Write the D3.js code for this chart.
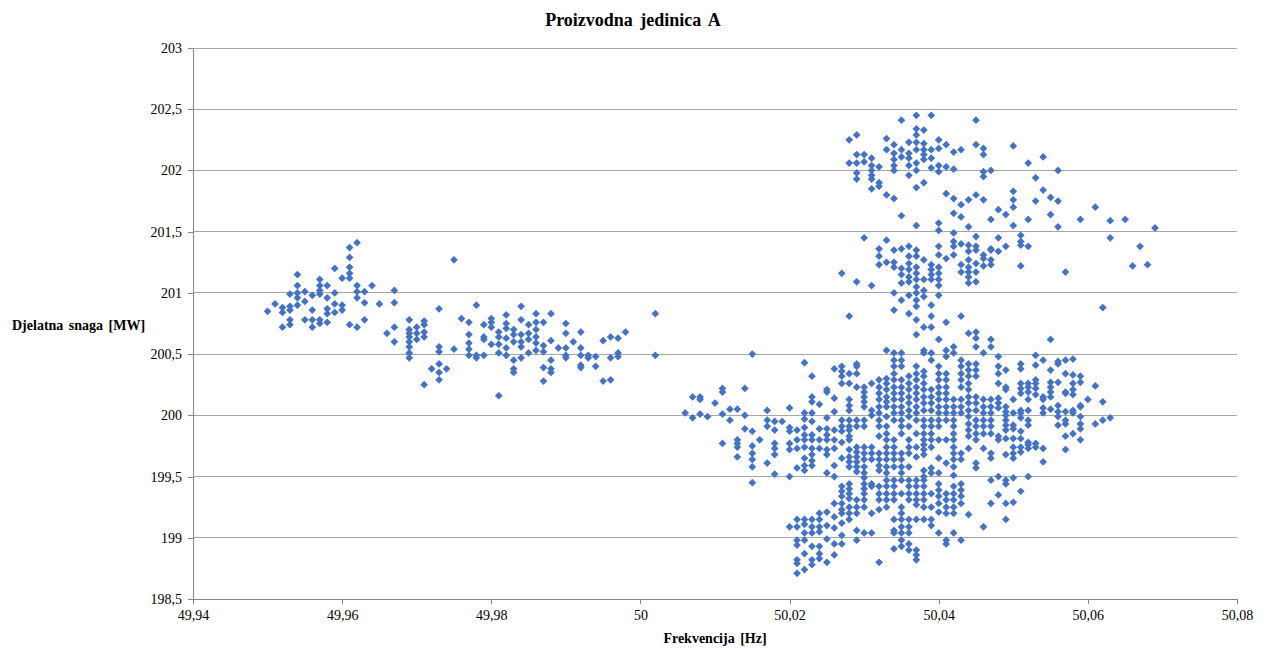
<!DOCTYPE html>
<html><head><meta charset="utf-8">
<script src="https://cdn.jsdelivr.net/npm/d3@7"></script>
<style>body{margin:0;background:#fff}svg{display:block}</style>
</head><body><svg id="c" width="1266" height="648"></svg>
<script>
const chartTitle = "Proizvodna jedinica A";
const xLabel = "Frekvencija [Hz]";
const yLabel = "Djelatna snaga [MW]";
const xTicks = [49.94, 49.96, 49.98, 50.00, 50.02, 50.04, 50.06, 50.08];
const yTicks = [198.5, 199, 199.5, 200, 200.5, 201, 201.5, 202, 202.5, 203];

// each entry: [frequency Hz, [active power MW readings at that frequency]]
const westCluster = [
[49.950,[200.85]],
[49.951,[200.91]],
[49.952,[200.88,200.84,200.72]],
[49.953,[200.99,200.89,200.86,200.78,200.74]],
[49.954,[201.15,201.06,201.00,200.96,200.90]],
[49.955,[201.01,200.93,200.78]],
[49.956,[200.98,200.86,200.78,200.72]],
[49.957,[201.11,201.06,201.02,200.99,200.78,200.75]],
[49.958,[201.06,200.96,200.87,200.83,200.76]],
[49.959,[201.20,201.00,200.91,200.84]],
[49.960,[201.12,200.90,200.86]],
[49.961,[201.37,201.29,201.21,201.16,201.12,200.74]],
[49.962,[201.41,201.06,201.01,200.96,200.72]],
[49.963,[201.01,200.92,200.78]],
[49.964,[201.06]],
[49.965,[200.91]],
[49.966,[200.67]],
[49.967,[201.02,200.92,200.72,200.60]],
[49.969,[200.78,200.70,200.67,200.64,200.60,200.56,200.51,200.47]],
[49.970,[200.72,200.67,200.62]],
[49.971,[200.77,200.74,200.68,200.64,200.25]],
[49.972,[200.38]],
[49.973,[200.87,200.56,200.52,200.42,200.35,200.29]],
[49.974,[200.38]],
[49.975,[201.27,200.54]],
[49.976,[200.79]],
[49.977,[200.76,200.66,200.59,200.54,200.49]],
[49.978,[200.90,200.49,200.47]],
[49.979,[200.74,200.64,200.62,200.49]],
[49.980,[200.79,200.76,200.72,200.58]],
[49.981,[200.68,200.64,200.58,200.51,200.16]],
[49.982,[200.82,200.75,200.71,200.63,200.55,200.49]],
[49.983,[200.70,200.66,200.60,200.45,200.38,200.35]],
[49.984,[200.89,200.78,200.66,200.60,200.56,200.47]],
[49.985,[200.74,200.67,200.62,200.51]],
[49.986,[200.83,200.76,200.70,200.64,200.59,200.53]],
[49.987,[200.76,200.57,200.52,200.39,200.28]],
[49.988,[200.83,200.61,200.45,200.38,200.35]],
[49.989,[200.55]],
[49.990,[200.75,200.67,200.55,200.49,200.47]],
[49.991,[200.60]],
[49.992,[200.68,200.55,200.49,200.41,200.39]],
[49.993,[200.49,200.47]],
[49.994,[200.48,200.40]],
[49.995,[200.61,200.28]],
[49.996,[200.64,200.47,200.29]],
[49.997,[200.63,200.51,200.48]],
[49.998,[200.68]],
[50.002,[200.83,200.49]]
];

const southCluster = [
[50.006,[200.02]],
[50.007,[200.15,199.98]],
[50.008,[200.15,200.13,200.01]],
[50.009,[199.99]],
[50.010,[200.10]],
[50.011,[200.22,200.19,200.01,199.77]],
[50.012,[200.05,199.96]],
[50.013,[200.05,199.80,199.77,199.74,199.66]],
[50.014,[200.22,200.00,199.89]],
[50.015,[200.50,199.87,199.75,199.69,199.64,199.58,199.45]],
[50.016,[199.80]],
[50.017,[200.04,199.96,199.91,199.61]],
[50.018,[199.95,199.88,199.77,199.73,199.68,199.52]],
[50.019,[199.95]],
[50.020,[200.06,199.90,199.87,199.77,199.72,199.50,199.09]],
[50.021,[199.88,199.80,199.73,199.57,199.15,199.09,198.98,198.94,198.82,198.79,198.71]],
[50.022,[200.43,200.02,199.97,199.90,199.84,199.80,199.74,199.65,199.59,199.55,199.15,199.11,199.04,198.98,198.87,198.74]],
[50.023,[200.32,200.15,200.11,200.02,199.95,199.84,199.80,199.73,199.68,199.63,199.59,199.15,199.09,199.04,198.93,198.82,198.78]],
[50.024,[200.09,199.89,199.80,199.73,199.20,199.15,199.09,199.05,198.93,198.87,198.83]],
[50.025,[200.21,200.19,199.98,199.89,199.84,199.80,199.72,199.68,199.53,199.21,199.10,198.99,198.80]],
[50.026,[200.38,200.14,200.03,199.88,199.80,199.73,199.59,199.50,199.28,199.17,199.08,198.95,198.86]],
[50.027,[200.40,200.36,200.32,200.26,199.96,199.91,199.87,199.78,199.65,199.42,199.38,199.34,199.28,199.23,199.20,199.12,199.02,198.95]],
[50.028,[200.34,200.26,200.13,200.08,200.04,199.96,199.91,199.88,199.83,199.80,199.72,199.66,199.62,199.58,199.44,199.40,199.36,199.32,199.25,199.20,199.15]],
[50.029,[200.42,200.40,200.34,200.23,199.96,199.91,199.74,199.70,199.66,199.62,199.58,199.54,199.31,199.25,199.20,199.06,198.98]],
[50.030,[200.23,200.19,200.15,200.11,200.07,199.96,199.91,199.74,199.69,199.64,199.58,199.53,199.49,199.44,199.40,199.36,199.31,199.25,199.04]],
[50.031,[200.26,200.04,200.00,199.74,199.69,199.64,199.44,199.42,199.20,199.04]],
[50.032,[200.29,200.23,200.18,200.13,200.07,200.02,199.96,199.91,199.83,199.69,199.64,199.59,199.55,199.42,199.36,199.31,199.23,198.80]],
[50.033,[200.53,200.30,200.26,200.21,200.15,200.11,200.07,199.99,199.91,199.85,199.80,199.74,199.69,199.64,199.58,199.53,199.47,199.42,199.36,199.31,199.25]],
[50.034,[200.51,200.45,200.40,200.34,200.29,200.23,200.18,200.13,200.07,200.02,199.96,199.80,199.74,199.69,199.64,199.58,199.47,199.42,199.36,199.31,199.15,199.06,199.04,198.91]],
[50.035,[200.51,200.45,200.40,200.29,200.23,200.18,200.13,200.07,200.02,199.96,199.91,199.85,199.69,199.64,199.58,199.53,199.47,199.36,199.25,199.20,199.15,199.09,199.04,198.98,198.93]],
[50.036,[200.32,200.26,200.21,200.15,200.10,200.04,199.99,199.91,199.80,199.74,199.69,199.58,199.47,199.42,199.36,199.31,199.15,199.09,199.04,198.95,198.90]],
[50.037,[200.40,200.34,200.29,200.23,200.18,200.13,200.07,200.02,199.96,199.85,199.74,199.66,199.47,199.42,199.36,199.31,199.27,199.15,198.90,198.86,198.82]],
[50.038,[200.53,200.51,200.36,200.32,200.26,200.21,200.15,200.10,200.04,199.96,199.91,199.85,199.80,199.76,199.72,199.68,199.55,199.50,199.47,199.42,199.36,199.31,199.25,199.15]],
[50.039,[200.51,200.45,200.21,200.15,200.10,200.04,199.96,199.91,199.85,199.80,199.74,199.57,199.53,199.36,199.25,199.15,199.10]],
[50.040,[200.62,200.40,200.34,200.29,200.23,200.18,200.13,200.07,200.02,199.96,199.91,199.80,199.65,199.53,199.44,199.39,199.34,199.28,199.21,199.04]],
[50.041,[200.53,200.48,200.34,200.29,200.23,200.18,200.13,200.07,200.02,199.96,199.80,199.61,199.36,199.31,199.25,199.20,198.98,198.95]],
[50.042,[200.56,200.51,200.13,200.07,200.02,199.96,199.91,199.85,199.80,199.74,199.69,199.64,199.58,199.51,199.42,199.36,199.31,199.25,199.20,199.04]],
[50.043,[200.45,200.40,200.34,200.29,200.23,200.13,200.07,200.02,199.69,199.64,199.44,199.39,199.34,199.28,198.98]],
[50.044,[200.67,200.42,200.37,200.32,200.26,200.21,200.15,200.10,200.04,199.99,199.93,199.88,199.83,199.73,199.19]],
[50.045,[200.68,200.63,200.56,200.42,200.37,200.32,200.15,200.10,200.04,199.96,199.91,199.85,199.80,199.61,199.57]],
[50.046,[200.51,200.13,200.07,200.02,199.96,199.91,199.85,199.73,199.09]],
[50.047,[200.62,200.56,200.13,200.07,200.02,199.96,199.91,199.85,199.69,199.65,199.47,199.28]],
[50.048,[200.48,200.40,200.34,200.26,200.14,200.10,200.06,199.83,199.80,199.50,199.35]],
[50.049,[200.37,200.23,200.21,200.07,200.03,200.00,199.96,199.92,199.88,199.81,199.68,199.47,199.44,199.28,199.15]],
[50.050,[200.13,200.02,199.92,199.89,199.81,199.74,199.69,199.65,199.49,199.29]],
[50.051,[200.42,200.38,200.26,200.22,200.18,200.04,200.02,199.98,199.87,199.81,199.74,199.70,199.38]],
[50.052,[200.26,200.23,200.19,200.13,200.04,199.96,199.92,199.78,199.76,199.73,199.50]],
[50.053,[200.49,200.41,200.29,200.26,200.22,200.17,199.77,199.74]],
[50.054,[200.45,200.15,200.13,200.06,200.02,199.73,199.62]],
[50.055,[200.62,200.37,200.27,200.23,200.19,200.15,200.05]],
[50.056,[200.44,200.42,200.27,200.08,200.03,199.99,199.92]],
[50.057,[200.45,200.34,200.19,200.18,200.03,199.96,199.93,199.83,199.72]],
[50.058,[200.46,200.33,200.26,200.21,200.17,200.04,200.02,199.85]],
[50.059,[200.32,200.27,200.08,200.07,199.99,199.93,199.89,199.80]],
[50.060,[200.13]],
[50.061,[200.24,199.93]],
[50.062,[200.11,199.96]],
[50.063,[199.98]]
];

const northCluster = [
[50.027,[201.16]],
[50.028,[202.25,202.06,200.81]],
[50.029,[202.29,202.13,202.06,201.98,201.93,201.09]],
[50.030,[202.13,202.07,201.45]],
[50.031,[202.10,202.04,202.00,201.96,201.93,201.85,201.06]],
[50.032,[202.03,201.90,201.87,201.36,201.30,201.23]],
[50.033,[202.26,202.17,201.80,201.43,201.25]],
[50.034,[202.21,202.14,202.09,202.04,202.00,201.77,201.35,201.25,201.21,201.00,200.86]],
[50.035,[202.41,202.17,202.11,201.63,201.36,201.20,201.15,201.08,200.94]],
[50.036,[202.23,202.14,202.10,202.04,201.96,201.38,201.30,201.24,201.19,201.13,201.09,200.98,200.83]],
[50.037,[202.45,202.34,202.29,202.23,202.17,202.06,202.00,201.86,201.55,201.35,201.30,201.21,201.16,201.11,201.05,201.00,200.94,200.89,200.78,200.66]],
[50.038,[202.33,202.22,202.17,202.13,202.09,201.90,201.27,201.11,201.02,200.97,200.72]],
[50.039,[202.45,202.17,202.10,202.02,201.23,201.19,201.15,201.11,200.90,200.81,200.72]],
[50.040,[202.25,202.18,202.04,201.99,201.57,201.51,201.38,201.31,201.21,201.16,201.11,201.06,200.98]],
[50.041,[202.21,202.03,201.81,201.28,200.76]],
[50.042,[202.15,202.01,201.77,201.65,201.49,201.42,201.38,201.31]],
[50.043,[202.17,201.72,201.62,201.40,201.23,201.17,200.81]],
[50.044,[201.76,201.54,201.39,201.34,201.27,201.21,201.17,201.13,201.08]],
[50.045,[202.41,202.21,201.80,201.46,201.38,201.35,201.24,201.17,201.09]],
[50.046,[202.18,202.13,201.99,201.95,201.76,201.31,201.28,201.22]],
[50.047,[202.00,201.60,201.36,201.35,201.27,201.23]],
[50.048,[201.68,201.45,201.34]],
[50.049,[201.64,201.38]],
[50.050,[202.20,201.83,201.76,201.70,201.55]],
[50.051,[201.47,201.42,201.39,201.22]],
[50.052,[202.06,201.60,201.38]],
[50.053,[201.94,201.75]],
[50.054,[202.11,201.84]],
[50.055,[201.78,201.64]],
[50.056,[202.00,201.75,201.54]],
[50.057,[201.17]],
[50.059,[201.60]],
[50.061,[201.70]],
[50.062,[200.88]],
[50.063,[201.59,201.45]],
[50.065,[201.60]],
[50.066,[201.22]],
[50.067,[201.38]],
[50.068,[201.23]],
[50.069,[201.53]]
];

const points = [...westCluster, ...southCluster, ...northCluster]
  .flatMap(([f, ps]) => ps.map(p => ({f, p})));

const svg = d3.select("#c");
const m = {left: 193, right: 1237, top: 48, bottom: 599};
const x = d3.scaleLinear().domain([xTicks[0], xTicks[xTicks.length-1]]).range([m.left, m.right]);
const y = d3.scaleLinear().domain([yTicks[0], yTicks[yTicks.length-1]]).range([m.bottom, m.top]);
const fmt = v => String(+v.toFixed(2)).replace(".", ",");
const serif = "'Liberation Serif','Times New Roman',serif";
const gridCol = "#A6A6A6";

// gridlines
svg.append("g").selectAll("line").data(yTicks).join("line")
  .attr("x1", m.left).attr("x2", m.right)
  .attr("y1", d => y(d)).attr("y2", d => y(d))
  .attr("stroke", gridCol).attr("stroke-width", 1).attr("shape-rendering", "crispEdges");

// axes
const gx = svg.append("g").attr("transform", `translate(0,${m.bottom})`)
  .call(d3.axisBottom(x).tickValues(xTicks).tickFormat(fmt).tickSize(5).tickSizeOuter(0).tickPadding(6));
const gy = svg.append("g").attr("transform", `translate(${m.left},0)`)
  .call(d3.axisLeft(y).tickValues(yTicks).tickFormat(fmt).tickSize(5).tickSizeOuter(0).tickPadding(6));
[gx, gy].forEach(g => {
  g.selectAll("path,line").attr("stroke", "#868686").attr("shape-rendering", "crispEdges");
  g.selectAll("text").attr("font-family", serif).attr("font-size", 14).attr("fill", "#000");
});

// markers
const diamond = d3.symbol(d3.symbolSquare, 30);
svg.append("g").selectAll("path").data(points).join("path")
  .attr("d", diamond)
  .attr("transform", d => `translate(${x(d.f)},${y(d.p)}) rotate(45)`)
  .attr("fill", "#4472C4");

// titles
svg.append("text").attr("x", 633).attr("y", 26).attr("text-anchor", "middle")
  .attr("font-family", serif).attr("font-weight", "bold").attr("font-size", 18)
  .attr("word-spacing", 3).text(chartTitle);
svg.append("text").attr("x", 12).attr("y", 330)
  .attr("font-family", serif).attr("font-weight", "bold").attr("font-size", 14)
  .attr("word-spacing", 2).text(yLabel);
svg.append("text").attr("x", (m.left + m.right) / 2).attr("y", 643).attr("text-anchor", "middle")
  .attr("font-family", serif).attr("font-weight", "bold").attr("font-size", 14)
  .attr("word-spacing", 2).text(xLabel);
</script></body></html>
